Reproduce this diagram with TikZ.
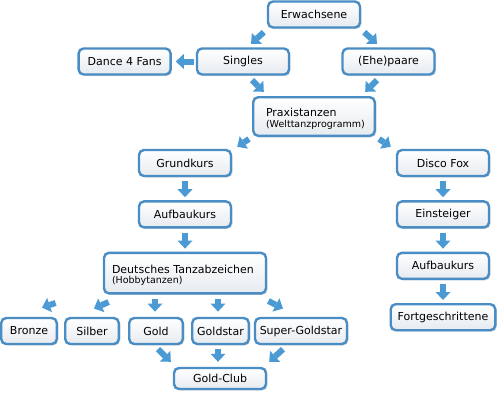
\documentclass[tikz,border=0pt]{standalone}
\usepackage{fontspec}
\setmainfont{DejaVu Sans}
\usetikzlibrary{arrows.meta,positioning,calc,shadows}
\definecolor{boxblue}{HTML}{4A8DC4}
\definecolor{arrowblue}{HTML}{4C9AD4}
\definecolor{boxshade}{HTML}{E6EBF0}
\tikzset{
  box/.style={
    rounded corners=5pt,draw=boxblue,top color=white,bottom color=boxshade,
    line width=2.4pt,minimum width=92pt,minimum height=26pt,inner sep=2pt,
    font=\fontsize{11}{13}\selectfont,
    drop shadow={shadow xshift=1.5pt,shadow yshift=-1.5pt,fill=black!40,opacity=.35}
  },
  levelbox/.style={box,minimum height=26pt},
  widebox/.style={box,align=left},
  flow/.style={-{Triangle[width=15pt,length=8pt,line width=0pt]},draw=arrowblue,line width=6pt}
}
\begin{document}
\begin{tikzpicture}[x=1pt,y=-1pt,node distance=23pt]
\useasboundingbox (0,0) rectangle (500,400);
% upper part
\node[box] (erw) at (314,14.5) {Erwachsene};
\node[box] (sing) at (243,61.5) {Singles};
\node[box,left=24pt of sing] (dance) {Dance 4 Fans};
\node[box] (ehe) at (388.5,61.5) {(Ehe)paare};
\node[widebox,minimum height=38.6pt,inner xsep=12.8pt,text width=96pt] (prax) at (314,116.5)
  {\rule{0pt}{13pt}Praxistanzen\\[-2.5pt]{\fontsize{9.5}{11}\selectfont(Welttanzprogramm)}};
% left branch
\node[box] (grund) at (185,163) {Grundkurs};
\node[box,below=of grund] (auf) {Aufbaukurs};
\node[widebox,minimum height=40.6pt,inner xsep=8pt,text width=146pt,below=of auf] (deut)
  {\rule{0pt}{13pt}Deutsches Tanzabzeichen\\[-2.5pt]{\fontsize{9.5}{11}\selectfont(Hobbytanzen)}};
\node[levelbox,minimum width=55.6pt] (bronze) at (29,331) {Bronze};
\node[levelbox,minimum width=53.6pt] (silber) at (92,331) {Silber};
\node[levelbox,minimum width=53.6pt] (gold) at (156,331) {Gold};
\node[levelbox,minimum width=56.6pt] (gs) at (220.5,331) {Goldstar};
\node[levelbox] (super) at (301,331) {Super-Goldstar};
\node[box,minimum height=21pt] (club) at (220,378.5) {Gold-Club};
% right branch
\node[box] (disco) at (443,163) {Disco Fox};
\node[box,below=of disco] (ein) {Einsteiger};
\node[box,below=of ein] (aufii) {Aufbaukurs};
\node[box,minimum width=104.6pt,below=of aufii] (fort) {Fortgeschrittene};
% arrows
\draw[flow] ([shift={(-3,3.5)}]erw.south west) -- ([shift={(8,-3.5)}]sing.north);
\draw[flow] ([shift={(3,3.5)}]erw.south east) -- ([shift={(-11.5,-3.5)}]ehe.north);
\draw[flow] ([shift={(-2,0)}]sing.west) -- ([shift={(4,0)}]dance.east);
\draw[flow] ([shift={(9,4.5)}]sing.south) -- ([shift={(11.8,-4.2)}]prax.north west);
\draw[flow] ([shift={(-11.5,4.5)}]ehe.south) -- ([shift={(-10.8,-4.2)}]prax.north east);
\draw[flow] ([shift={(-3,2)}]prax.south west) -- ([shift={(5,-2)}]grund.north east);
\draw[flow] ([shift={(3,2)}]prax.south east) -- ([shift={(-5,-2)}]disco.north west);
\draw[flow] ([yshift=-4pt]grund.south) -- ([yshift=3pt]auf.north);
\draw[flow] ([yshift=-4pt]auf.south) -- ([yshift=3pt]deut.north);
\draw[flow] ([yshift=-4pt]disco.south) -- ([yshift=3pt]ein.north);
\draw[flow] ([yshift=-4pt]ein.south) -- ([yshift=3pt]aufii.north);
\draw[flow] ([yshift=-4pt]aufii.south) -- ([yshift=3pt]fort.north);
\draw[flow] ([shift={(-47.2,8.4)}]deut.south west) -- ([shift={(13,-9.2)}]bronze.north);
\draw[flow] ([shift={(5.8,7.4)}]deut.south west) -- ([shift={(2,-8.2)}]silber.north);
\draw[flow] ($(gold.north |- deut.south)+(-1,4.4)$) -- ([shift={(-1,-5.2)}]gold.north);
\draw[flow] ($(gs.north |- deut.south)+(-2.5,4.4)$) -- ([shift={(-2.5,-5.2)}]gs.north);
\draw[flow] ([shift={(1.2,6.4)}]deut.south east) -- ([shift={(-18,-8.2)}]super.north);
\draw[flow] ([shift={(2,4)}]gold.south) -- ([shift={(-2,-5)}]club.north west);
\draw[flow] ([shift={(-2.5,4)}]gs.south) -- ([shift={(-2,-5)}]club.north);
\draw[flow] ([shift={(-18,4)}]super.south) -- ([shift={(2,-5)}]club.north east);
\end{tikzpicture}
\end{document}
